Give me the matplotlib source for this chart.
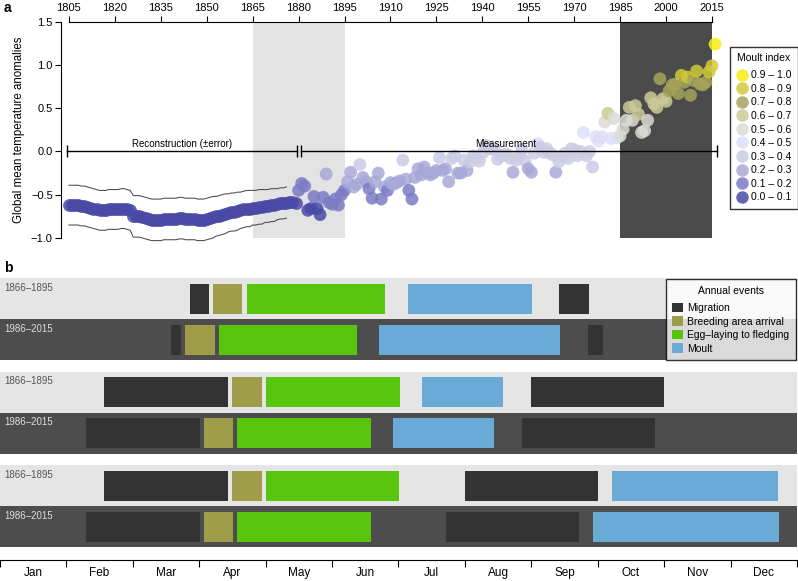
import matplotlib
matplotlib.use("Agg")
import matplotlib.pyplot as plt
import numpy as np
from matplotlib.lines import Line2D
from matplotlib.patches import Patch

plt.rcParams["font.family"] = ["Liberation Sans", "DejaVu Sans"]

# ---- panel a data ----
recon_years = list(range(1805, 1880))
recon_temp = [
    -0.62, -0.62, -0.62, -0.62, -0.63, -0.63, -0.64, -0.65, -0.66, -0.67,
    -0.68, -0.68, -0.68, -0.67, -0.67, -0.67, -0.67, -0.66, -0.66, -0.67,
    -0.68, -0.75, -0.75, -0.75, -0.76, -0.77, -0.78, -0.79, -0.79, -0.79,
    -0.79, -0.78, -0.78, -0.78, -0.78, -0.78, -0.77, -0.77, -0.78, -0.78,
    -0.78, -0.78, -0.79, -0.79, -0.79, -0.78, -0.77, -0.76, -0.75, -0.74,
    -0.73, -0.72, -0.71, -0.70, -0.70, -0.69, -0.68, -0.67, -0.66, -0.66,
    -0.65, -0.65, -0.64, -0.64, -0.63, -0.63, -0.62, -0.62, -0.61, -0.60,
    -0.60, -0.59, -0.58, -0.58, -0.59,
]
recon_err = [
    0.23, 0.23, 0.23, 0.23, 0.23, 0.23, 0.23, 0.23, 0.23, 0.23,
    0.23, 0.23, 0.23, 0.23, 0.23, 0.23, 0.23, 0.23, 0.23, 0.23,
    0.23, 0.24, 0.24, 0.24, 0.24, 0.24, 0.24, 0.24, 0.24, 0.24,
    0.24, 0.24, 0.24, 0.24, 0.24, 0.24, 0.24, 0.24, 0.24, 0.24,
    0.24, 0.24, 0.24, 0.24, 0.24, 0.24, 0.24, 0.24, 0.23, 0.23,
    0.23, 0.23, 0.22, 0.22, 0.22, 0.22, 0.21, 0.21, 0.21, 0.21,
    0.20, 0.20, 0.20, 0.20, 0.19, 0.19, 0.19, 0.19, 0.18, 0.18,
    0.18, 0.18, np.nan, np.nan, np.nan,
]

meas_years = list(range(1880, 2017))
meas_temp = [
    -0.45, -0.37, -0.40, -0.68, -0.66, -0.52, -0.66, -0.73, -0.53, -0.26,
    -0.59, -0.61, -0.55, -0.62, -0.50, -0.45, -0.35, -0.24, -0.41, -0.38,
    -0.15, -0.30, -0.35, -0.43, -0.54, -0.35, -0.25, -0.55, -0.41, -0.45,
    -0.36, -0.38, -0.36, -0.34, -0.10, -0.32, -0.45, -0.55, -0.30, -0.20,
    -0.27, -0.18, -0.25, -0.27, -0.25, -0.22, -0.07, -0.22, -0.20, -0.35,
    -0.08, -0.05, -0.25, -0.25, -0.10, -0.22, -0.12, -0.05, -0.07, -0.11,
    -0.02, 0.07, 0.03, 0.03, 0.02, -0.09, -0.05, -0.04, -0.03, -0.08,
    -0.24, -0.10, -0.05, 0.02, -0.11, -0.20, -0.24, -0.02, 0.09, 0.05,
    -0.01, 0.03, -0.02, -0.04, -0.24, -0.12, -0.05, -0.02, -0.08, 0.03,
    0.02, -0.05, 0.00, 0.22, -0.05, 0.00, -0.18, 0.17, 0.12, 0.17,
    0.34, 0.44, 0.15, 0.38, 0.16, 0.18, 0.26, 0.36, 0.51, 0.36,
    0.53, 0.43, 0.22, 0.24, 0.36, 0.62, 0.55, 0.51, 0.84, 0.61,
    0.58, 0.70, 0.77, 0.78, 0.67, 0.88, 0.80, 0.86, 0.65, 0.82,
    0.93, 0.78, 0.77, 0.80, 0.92, 0.99, 1.24,
]
# moult index class per year (0 = 0.0-0.1 ... 9 = 0.9-1.0)
meas_moult = [
    1, 1, 1, 0, 0, 1, 0, 0, 1, 2,
    1, 1, 1, 1, 1, 1, 2, 2, 2, 2,
    3, 2, 2, 1, 1, 2, 2, 1, 2, 1,
    2, 2, 2, 2, 3, 2, 1, 1, 2, 2,
    2, 2, 2, 2, 2, 2, 3, 2, 2, 2,
    3, 3, 2, 2, 3, 2, 3, 3, 3, 3,
    3, 3, 3, 3, 3, 3, 3, 3, 3, 3,
    2, 3, 3, 3, 3, 2, 2, 3, 4, 3,
    3, 3, 3, 3, 2, 3, 3, 3, 3, 3,
    3, 3, 3, 4, 3, 3, 3, 4, 4, 4,
    5, 6, 4, 5, 4, 5, 5, 5, 6, 5,
    6, 6, 5, 5, 5, 6, 6, 6, 7, 6,
    6, 7, 7, 7, 7, 8, 7, 8, 7, 7,
    8, 7, 7, 7, 8, 8, 9,
]
moult_labels = ["0.0 – 0.1", "0.1 – 0.2", "0.2 – 0.3", "0.3 – 0.4", "0.4 – 0.5",
                "0.5 – 0.6", "0.6 – 0.7", "0.7 – 0.8", "0.8 – 0.9", "0.9 – 1.0"]
moult_colors = ["#4a4aa6", "#7b7bc6", "#a8a8d8", "#cbcbe4", "#dedef8",
                "#dcdcd6", "#cccb98", "#a6a45a", "#d0ca3a", "#f4ee10"]
tick_years = list(range(1805, 2016, 15))

# ---- panel b data ----
periods = ["1866–1895", "1986–2015", "1866–1895", "1986–2015", "1866–1895", "1986–2015"]
event_names = ["Migration", "Breeding area arrival", "Egg–laying to fledging", "Moult"]
event_colors = ["#333333", "#a09d48", "#56c50c", "#6aaad6"]
# (event, start month, end month); Jan 1 = 0
rows = [
    [(0, 2.86, 3.15), (1, 3.21, 3.65), (2, 3.72, 5.80), (3, 6.15, 8.01), (0, 8.42, 8.87)],
    [(0, 2.58, 2.73), (1, 2.79, 3.23), (2, 3.29, 5.37), (3, 5.71, 8.43), (0, 8.86, 9.08)],
    [(0, 1.57, 3.44), (1, 3.50, 3.94), (2, 4.00, 6.02), (3, 6.35, 7.58), (0, 8.00, 10.00)],
    [(0, 1.29, 3.01), (1, 3.07, 3.51), (2, 3.57, 5.58), (3, 5.92, 7.44), (0, 7.86, 9.86)],
    [(0, 1.57, 3.44), (1, 3.50, 3.94), (2, 4.00, 6.01), (0, 7.00, 9.01), (3, 9.22, 11.72)],
    [(0, 1.29, 3.01), (1, 3.07, 3.51), (2, 3.57, 5.58), (0, 6.71, 8.72), (3, 8.93, 11.73)],
]
months = ["Jan", "Feb", "Mar", "Apr", "May", "Jun",
          "Jul", "Aug", "Sep", "Oct", "Nov", "Dec"]

W, H = 798, 581
fig = plt.figure(figsize=(W / 100, H / 100), dpi=100)

# ---------------- panel a ----------------
ax = fig.add_axes([61 / W, 1 - 238 / H, (727.3 - 61) / W, (238 - 21.7) / H])
ax.set_xlim(1802.4, 2020)
ax.set_ylim(-1.0, 1.5)
ax.axvspan(1865, 1895, color="#e3e3e3", lw=0, zorder=0)
ax.axvspan(1985, 2015, color="#4b4b4b", lw=0, zorder=0)

rt = np.array(recon_temp)
re = np.array(recon_err)
ax.plot(recon_years, rt + re, color="#4a4a4a", lw=0.75, zorder=1, clip_on=False)
ax.plot(recon_years, rt - re, color="#4a4a4a", lw=0.75, zorder=1, clip_on=False)
ax.scatter(recon_years, recon_temp, s=85, color=moult_colors[0], alpha=0.85,
           lw=0, zorder=2)
ax.scatter(meas_years, meas_temp, s=85, color=[moult_colors[c] for c in meas_moult],
           alpha=0.85, lw=0, zorder=2, clip_on=False)

for x0, x1 in [(1804.5, 1879.6), (1880.8, 2016.6)]:
    ax.plot([x0, x1], [0, 0], color="black", lw=1, zorder=3)
    ax.plot([x0, x1], [0, 0], ls="none", marker="|", ms=9, mew=1,
            color="black", zorder=3)
ax.text(1842, 0.03, "Reconstruction (±error)", ha="center", va="bottom",
        fontsize=7, zorder=4)
ax.text(1947.5, 0.03, "Measurement", ha="center", va="bottom", fontsize=7.2,
        zorder=4)

ax.spines["bottom"].set_visible(False)
ax.spines["right"].set_visible(False)
ax.spines["top"].set_bounds(1805, 2015)
ax.spines["left"].set_bounds(-1.0, 1.5)
ax.xaxis.tick_top()
ax.set_xticks(tick_years)
ax.set_yticks([-1.0, -0.5, 0.0, 0.5, 1.0, 1.5])
ax.set_yticklabels(["−1.0", "−0.5", "0.0", "0.5", "1.0", "1.5"])
ax.tick_params(direction="out", length=4, width=0.8, labelsize=8, pad=2)
ax.set_ylabel("Global mean temperature anomalies", fontsize=8.3, labelpad=4)

handles = [Line2D([], [], ls="none", marker="o", ms=9, mew=0, alpha=0.85,
                  markerfacecolor=c) for c in moult_colors[::-1]]
leg = fig.legend(handles, moult_labels[::-1], title="Moult index",
                 loc="upper left", bbox_to_anchor=(730 / W, 1 - 46.7 / H),
                 borderaxespad=0, fontsize=7.5, title_fontsize=7.5,
                 frameon=True, fancybox=False, edgecolor="black",
                 handletextpad=0.35, labelspacing=0.34, handlelength=1.0,
                 borderpad=0.65)
leg.get_frame().set_linewidth(1)
leg._legend_box.sep = 5

# ---------------- panel b ----------------
ax2 = fig.add_axes([0, 1 - 560 / H, 797 / W, (560 - 278.3) / H])
ax2.set_xlim(0, 12)
group_pitch = 2.28
ax2.set_ylim(6.87, 0)

for i, row in enumerate(rows):
    ytop = (i // 2) * group_pitch + (i % 2)
    light = i % 2 == 0
    ax2.axhspan(ytop, ytop + 1, color="#e5e5e5" if light else "#4d4d4d", lw=0,
                zorder=0)
    for ev, start, end in row:
        ax2.barh(ytop + 0.5, end - start, left=start, height=0.73,
                 color=event_colors[ev], lw=0, zorder=1)
    ax2.text(0.06, ytop + 0.11, periods[i], va="top", ha="left", fontsize=7,
             color="#555555" if light else "#dddddd", zorder=2)

for s in ["top", "left", "right"]:
    ax2.spines[s].set_visible(False)
ax2.set_yticks([])
ax2.set_xticks(range(13))
ax2.set_xticklabels([])
ax2.set_xticks([m + 0.5 for m in range(12)], minor=True)
ax2.set_xticklabels(months, minor=True)
ax2.tick_params(axis="x", which="major", direction="out", length=5, width=0.8)
ax2.tick_params(axis="x", which="minor", length=0, labelsize=8.5, pad=5)

ev_handles = [Patch(facecolor=c, edgecolor="none") for c in event_colors]
leg2 = fig.legend(ev_handles, event_names, title="Annual events",
                  loc="upper left", bbox_to_anchor=(665.7 / W, 1 - 279 / H),
                  borderaxespad=0, fontsize=7.5, title_fontsize=7.5,
                  frameon=True, fancybox=False, edgecolor="black",
                  handletextpad=0.4, labelspacing=0.32, handlelength=1.0,
                  handleheight=1.0, borderpad=0.65)
leg2.get_frame().set_linewidth(1)
leg2._legend_box.sep = 5

fig.text(4 / W, 1 - 8 / H, "a", fontsize=10, fontweight="bold", va="center")
fig.text(4 / W, 1 - 268 / H, "b", fontsize=10, fontweight="bold", va="center")

fig.savefig("out.png", dpi=100)
